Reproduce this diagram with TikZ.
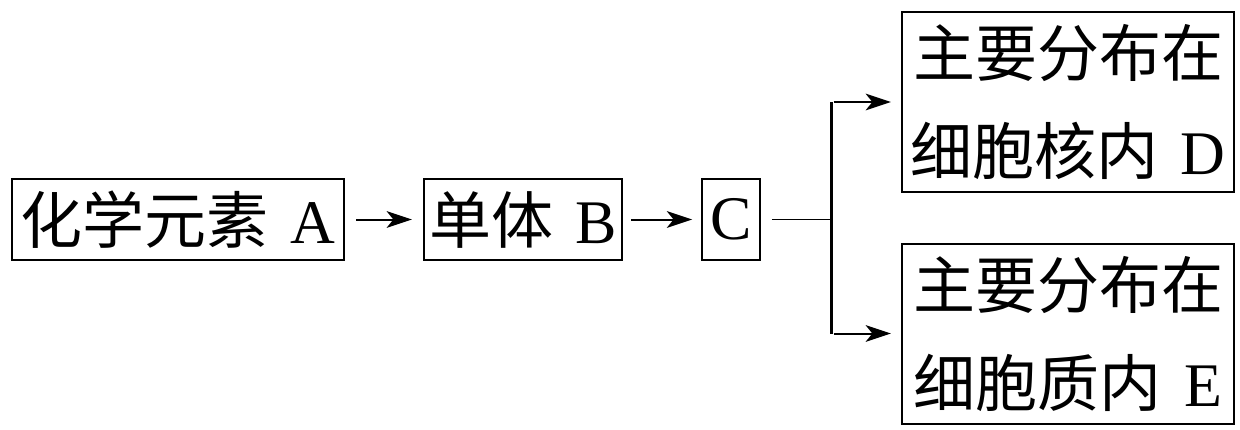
\documentclass[tikz,border=0pt]{standalone}
\usepackage{fontspec}
\setmainfont{Liberation Serif}
\newfontfamily\cjk{Noto Sans CJK SC}
\usetikzlibrary{arrows.meta}
\newcommand\gapL{\kern0.36em}
\begin{document}
\begin{tikzpicture}[x=0.75pt,y=-0.75pt,
  box/.style={draw,line width=1.5pt,inner sep=0pt,minimum height=60.75pt,
    font=\fontsize{46.5pt}{73.5pt}\selectfont},
  bigbox/.style={box,minimum width=249pt,minimum height=135pt,align=center},
  arr/.style={line width=1.5pt,-{Stealth[length=19pt,width=12.5pt,inset=5pt]}},
]
\useasboundingbox (0,0) rectangle (1240,429);
\node[box,minimum width=249pt] (A) at (178,219.5) {{\cjk 化学元素}\gapL A};
\node[box,minimum width=148.5pt] (B) at (523,219.5) {{\cjk 单体}\gapL B};
\node[box,minimum width=43.5pt,line width=1.2pt] (C) at (731,219.5) {C};
\node[bigbox] (D) at (1068,102) {{\cjk 主要分布在}\\{\cjk 细胞核内}\gapL D};
\node[bigbox] (E) at (1068,333.5) {{\cjk 主要分布在}\\{\cjk 细胞质内}\gapL E};
\coordinate (fork) at (831,219.5);
\coordinate (forkD) at (831,102);
\coordinate (forkE) at (831,333.5);
\draw[arr,shorten <=8.25pt,shorten >=8.25pt] (A) -- (B);
\draw[arr,shorten <=6pt,shorten >=6.75pt] (B) -- (C);
\draw[line width=1.1pt,shorten <=8.25pt] (C) -- (fork);
\draw[line width=2.25pt] (forkD) -- (forkE);
\draw[arr,shorten <=2pt,shorten >=7.5pt] (forkD) -- (D);
\draw[arr,shorten <=2pt,shorten >=7.5pt] (forkE) -- (E);
\end{tikzpicture}
\end{document}
